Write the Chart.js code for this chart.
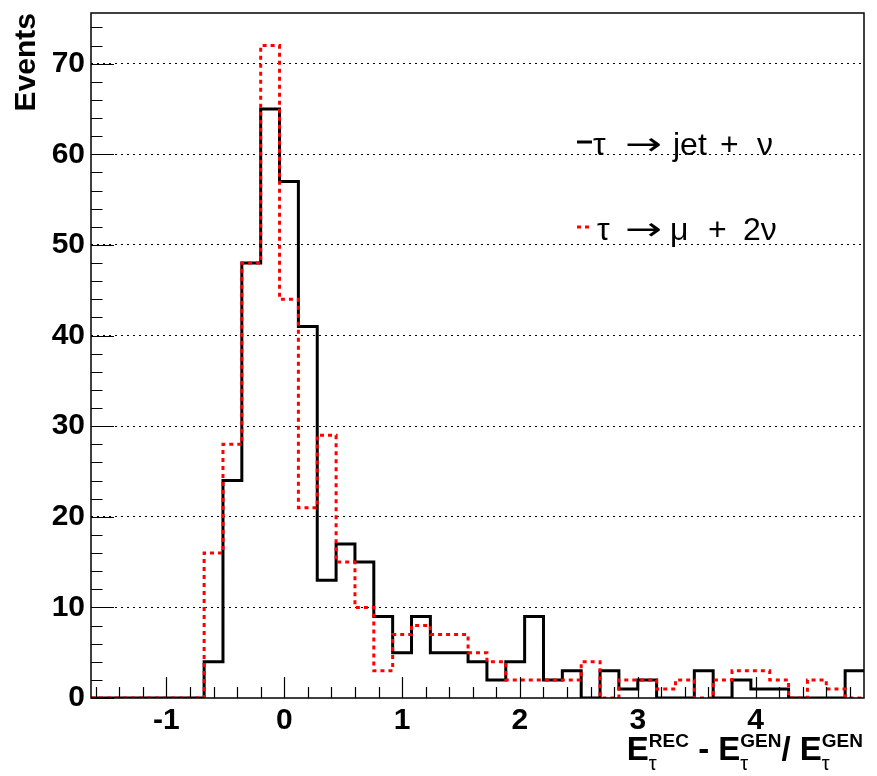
<!DOCTYPE html>
<html>
<head>
<meta charset="utf-8">
<script src="https://cdn.jsdelivr.net/npm/chart.js@4.4.1/dist/chart.umd.min.js"></script>
<style>
  html, body { margin: 0; padding: 0; background: #fff; }
  #wrap { width: 877px; height: 776px; }
</style>
</head>
<body>
<div id="wrap"><canvas id="chart" width="877" height="776"></canvas></div>
<script>
// histogram binning (41 bins of 0.16)
const BIN_LOW   = -1.64
const BIN_WIDTH = 0.16
const X_MIN = -1.64
const X_MAX = 4.92
const Y_MAX = 75.6

// events per bin
const jetCounts = [0, 0, 0, 0, 0, 0, 4, 24, 48, 65, 57, 41, 13, 17, 15, 9, 5, 9, 5, 5,
                   4, 2, 4, 9, 2, 3, 0, 3, 1, 2, 0, 0, 3, 0, 2, 1, 1, 0, 0, 0, 3]
const muCounts  = [0, 0, 0, 0, 0, 0, 16, 28, 48, 72, 44, 21, 29, 15, 10, 3, 7, 8, 7, 7,
                   5, 4, 2, 2, 2, 2, 4, 0, 2, 2, 1, 2, 0, 2, 3, 3, 2, 0, 2, 1, 0]

const xTicks = [-1, 0, 1, 2, 3, 4]
const yTicks = [0, 10, 20, 30, 40, 50, 60, 70]

const seriesLabels = ['τ → jet + ν', 'τ → μ + 2ν']
const yTitle = 'Events'
const xTitle = [
  { base: 'E', sup: 'REC', sub: 'τ' },
  { text: ' - ' },
  { base: 'E', sup: 'GEN', sub: 'τ' },
  { text: '/ ' },
  { base: 'E', sup: 'GEN', sub: 'τ' },
]

const FONT = '"Liberation Sans", Arial, Helvetica, sans-serif'

// bin low edges + closing edge, drawn with stepped lines
function toSteps(counts) {
  const pts = counts.map((c, i) => ({ x: BIN_LOW + i * BIN_WIDTH, y: c }))
  pts.push({ x: BIN_LOW + counts.length * BIN_WIDTH, y: counts[counts.length - 1] })
  return pts
}

// legend placement: marker line y, text baseline, word x positions
const legendRows = [
  { y: 142, base: 155, xs: [593, 625, 673, 720, 757] },
  { y: 227, base: 240, xs: [597, 625, 670, 708, 743] },
]
const ARROW_W = 37

const rootDecor = {
  id: 'rootDecor',
  afterDraw(chart) {
    const { ctx, chartArea: a, scales: { x, y } } = chart
    ctx.save()

    // frame
    ctx.strokeStyle = '#000'
    ctx.lineWidth = 1.5
    ctx.setLineDash([])
    ctx.strokeRect(a.left, a.top, a.right - a.left, a.bottom - a.top)

    // inward ticks, x
    ctx.lineWidth = 1.2
    ctx.beginPath()
    for (let k = -8; k <= 24; k++) {
      const v = k * 0.2
      if (v < X_MIN || v > X_MAX) continue
      const px = Math.round(x.getPixelForValue(v)) + 0.5
      const len = k % 5 === 0 ? 21 : 11
      ctx.moveTo(px, a.bottom)
      ctx.lineTo(px, a.bottom - len)
    }
    // inward ticks, y
    for (let v = 0; v <= Y_MAX; v += 2) {
      const py = Math.round(y.getPixelForValue(v)) + 0.5
      const len = v % 10 === 0 ? 23 : 11.5
      ctx.moveTo(a.left, py)
      ctx.lineTo(a.left + len, py)
    }
    ctx.stroke()

    // y title
    ctx.fillStyle = '#000'
    ctx.save()
    ctx.translate(35, 13)
    ctx.rotate(-Math.PI / 2)
    ctx.font = 'bold 30px ' + FONT
    ctx.textAlign = 'right'
    ctx.textBaseline = 'alphabetic'
    ctx.fillText(yTitle, 0, 0)
    ctx.restore()

    // x title, right aligned
    const big = 'bold 33px ' + FONT, sup = 'bold 19px ' + FONT, sub = '20px ' + FONT
    const w = (f, t) => { ctx.font = f; return ctx.measureText(t).width }
    const widths = xTitle.map(p => p.text ? w(big, p.text) :
      w(big, p.base) + Math.max(w(sup, p.sup), w(sub, p.sub)))
    let cx = 863 - widths.reduce((s, v) => s + v, 0)
    ctx.textAlign = 'left'
    xTitle.forEach((p, i) => {
      if (p.text) {
        ctx.font = big; ctx.fillText(p.text, cx, 760)
      } else {
        ctx.font = big; ctx.fillText(p.base, cx, 760)
        const sx = cx + w(big, p.base)
        ctx.font = sup; ctx.fillText(p.sup, sx, 747)
        ctx.font = sub; ctx.fillText(p.sub, sx, 770)
      }
      cx += widths[i]
    })

    // legend
    chart.data.datasets.forEach((ds, i) => {
      const r = legendRows[i]
      ctx.strokeStyle = ds.borderColor
      ctx.lineWidth = ds.borderWidth
      ctx.setLineDash(ds.borderDash || [])
      ctx.beginPath()
      ctx.moveTo(577, r.y)
      ctx.lineTo(592, r.y)
      ctx.stroke()
      ctx.setLineDash([])
      ctx.fillStyle = '#000'
      seriesLabels[i].split(' ').forEach((word, j) => {
        if (word === '→') {
          ctx.font = '32px "DejaVu Sans", sans-serif'
          const aw = ctx.measureText(word).width
          ctx.save()
          ctx.translate(r.xs[j], r.base)
          ctx.scale(ARROW_W / aw, 1)
          ctx.fillText(word, 0, 0)
          ctx.restore()
        } else {
          ctx.font = '32px ' + FONT
          ctx.fillText(word, r.xs[j], r.base)
        }
      })
    })

    ctx.restore()
  }
}

new Chart(document.getElementById('chart'), {
  type: 'line',
  data: {
    datasets: [
      {
        label: seriesLabels[0],
        data: toSteps(jetCounts),
        borderColor: '#000000',
        borderWidth: 3,
        stepped: true,
        pointRadius: 0,
        fill: false,
        order: 2,
      },
      {
        label: seriesLabels[1],
        data: toSteps(muCounts),
        borderColor: '#ff0000',
        borderWidth: 3,
        borderDash: [4, 4],
        stepped: true,
        pointRadius: 0,
        fill: false,
        order: 1,
      },
    ],
  },
  options: {
    responsive: false,
    animation: false,
    layout: { padding: { left: 0, right: 13, top: 13, bottom: 0 } },
    plugins: { legend: { display: false }, tooltip: { enabled: false } },
    scales: {
      x: {
        type: 'linear',
        min: X_MIN, max: X_MAX,
        afterBuildTicks: s => { s.ticks = xTicks.map(v => ({ value: v })) },
        afterFit: s => { s.height = 78; s.paddingLeft = 0; s.paddingRight = 0 },
        grid: { display: false },
        border: { display: false },
        ticks: {
          color: '#000', padding: -3, maxRotation: 0, autoSkip: false,
          font: { family: FONT, size: 30, weight: 'bold' },
        },
      },
      y: {
        type: 'linear',
        min: 0, max: Y_MAX,
        afterBuildTicks: s => { s.ticks = yTicks.map(v => ({ value: v })) },
        afterFit: s => { s.width = 91; s.paddingTop = 0; s.paddingBottom = 0 },
        grid: {
          color: c => (c.tick && c.tick.value === 0) ? 'rgba(0,0,0,0)' : '#000',
          lineWidth: 1,
          drawTicks: false,
        },
        border: { display: false, dash: [2, 4] },
        ticks: {
          color: '#000', padding: 6,
          font: { family: FONT, size: 30, weight: 'bold' },
        },
      },
    },
  },
  plugins: [rootDecor],
})
</script>
</body>
</html>
